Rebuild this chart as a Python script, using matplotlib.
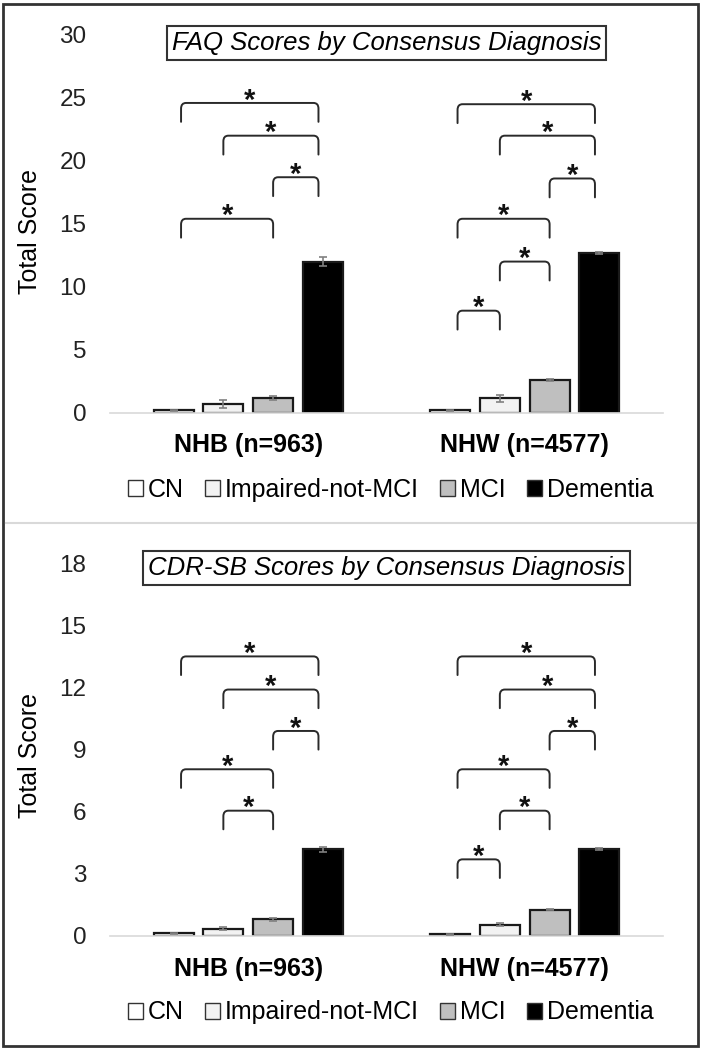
"""
FAQ and CDR-SB total scores by consensus diagnosis, NHB vs NHW.
Two stacked bar panels with significance brackets.
"""

import matplotlib.pyplot as plt
import numpy as np
from matplotlib.patches import Patch, Rectangle
from matplotlib.path import Path
from matplotlib.patches import PathPatch
from matplotlib.lines import Line2D

# ---------------------------------------------------------------------------
# Data
# ---------------------------------------------------------------------------
groups = ["NHB (n=963)", "NHW (n=4577)"]
diagnoses = ["CN", "Impaired-not-MCI", "MCI", "Dementia"]

faq_nhb     = [0.20, 0.67, 1.14, 12.00]
faq_nhb_err = [0.05, 0.30, 0.15, 0.35]
faq_nhw     = [0.20, 1.14, 2.60, 12.68]
faq_nhw_err = [0.05, 0.27, 0.10, 0.10]

cdr_nhb     = [0.13, 0.35, 0.80, 4.19]
cdr_nhb_err = [0.03, 0.06, 0.06, 0.12]
cdr_nhw     = [0.08, 0.55, 1.26, 4.19]
cdr_nhw_err = [0.02, 0.06, 0.03, 0.05]

# significance brackets: (from diagnosis, to diagnosis, bracket height)
faq_brackets_nhb = [(0, 3, 24.6), (1, 3, 22.0), (2, 3, 18.7), (0, 2, 15.4)]
faq_brackets_nhw = [(0, 3, 24.5), (1, 3, 22.0), (2, 3, 18.6), (0, 2, 15.4),
                    (1, 2, 12.0), (0, 1, 8.1)]
cdr_brackets_nhb = [(0, 3, 13.5), (1, 3, 11.9), (2, 3, 9.9), (0, 2, 8.05),
                    (1, 2, 6.05)]
cdr_brackets_nhw = [(0, 3, 13.5), (1, 3, 11.9), (2, 3, 9.9), (0, 2, 8.05),
                    (1, 2, 6.05), (0, 1, 3.7)]

faq_ticks = [0, 5, 10, 15, 20, 25, 30]
cdr_ticks = [0, 3, 6, 9, 12, 15, 18]

# ---------------------------------------------------------------------------
# Style
# ---------------------------------------------------------------------------
plt.rcParams.update({
    "font.family": ["Liberation Sans", "DejaVu Sans"],
    "font.size": 17.5,
})

face_colors = ["#ffffff", "#f2f2f2", "#bfbfbf", "#000000"]
edge_color = "#1a1a1a"
err_color = "#808080"
bar_w = 0.144
step = 0.18
offsets = [(i - 1.5) * step for i in range(len(diagnoses))]


def bracket(ax, x1, x2, y, drop):
    rx = 0.018
    ry = drop * 0.3
    verts = [(x1, y - drop), (x1, y - ry), (x1, y), (x1 + rx, y),
             (x2 - rx, y), (x2, y), (x2, y - ry), (x2, y - drop)]
    codes = [Path.MOVETO, Path.LINETO, Path.CURVE3, Path.CURVE3,
             Path.LINETO, Path.CURVE3, Path.CURVE3, Path.LINETO]
    ax.add_patch(PathPatch(Path(verts, codes), fill=False, lw=1.4,
                           edgecolor="#2a2a2a", capstyle="round",
                           zorder=3))
    ax.annotate("*", xy=((x1 + x2) / 2, y), xytext=(0, -4),
                textcoords="offset points", ha="center", va="baseline",
                fontsize=21, fontweight="bold", color="#111111")


def panel(ax, series, errs, brackets, ticks, title, title_y):
    ymax = ticks[-1]
    for g, (vals, ee) in enumerate(zip(series, errs)):
        for i in range(len(diagnoses)):
            ax.bar(g + offsets[i], vals[i], width=bar_w,
                   color=face_colors[i], edgecolor=edge_color, lw=1.6,
                   zorder=2)
            ax.errorbar(g + offsets[i], vals[i], yerr=ee[i], fmt="none",
                        ecolor=err_color, elinewidth=1.2, capsize=3,
                        capthick=1.2, zorder=3)
        for i, j, h in brackets[g]:
            # CN end sits slightly inside the bar, Dementia end slightly left
            x1 = g + offsets[i] + (0.027 if i == 0 else 0)
            x2 = g + offsets[j] - (0.016 if j == 3 else 0)
            bracket(ax, x1, x2, h, 0.05 * ymax)

    ax.set_xlim(-0.5, 1.5)
    ax.set_ylim(0, ymax)
    ax.set_yticks(ticks)
    ax.set_xticks([0, 1])
    ax.set_xticklabels(groups, fontsize=18, fontweight="bold")
    ax.tick_params(axis="y", length=0, pad=17, labelcolor="#222222")
    ax.tick_params(axis="x", length=0, pad=15)
    for s in ["top", "right", "left"]:
        ax.spines[s].set_visible(False)
    ax.spines["bottom"].set_color("#d9d9d9")
    ax.spines["bottom"].set_linewidth(1.2)

    ax.text(0.5, title_y, title, transform=ax.transAxes, ha="center",
            va="center", fontsize=18.5, style="italic",
            bbox=dict(boxstyle="square,pad=0.2", facecolor="white",
                      edgecolor="#333333", linewidth=1.5))

    handles = [Patch(facecolor=c, edgecolor="#333333", linewidth=1.0,
                     label=d) for c, d in zip(face_colors, diagnoses)]
    ax.legend(handles=handles, loc="center", bbox_to_anchor=(0.508, -0.205),
              ncol=4, frameon=False, fontsize=18, handlelength=0.6,
              handleheight=0.6, handletextpad=0.2, columnspacing=0.85,
              borderaxespad=0)


# ---------------------------------------------------------------------------
# Plot
# ---------------------------------------------------------------------------
fig = plt.figure(figsize=(7.02, 10.5), dpi=100)
ax1 = fig.add_axes([0.1567, 0.6070, 0.7877, 0.3597])
ax2 = fig.add_axes([0.1567, 0.1086, 0.7877, 0.3550])

panel(ax1, [faq_nhb, faq_nhw], [faq_nhb_err, faq_nhw_err],
      [faq_brackets_nhb, faq_brackets_nhw], faq_ticks,
      "FAQ Scores by Consensus Diagnosis", 0.979)
panel(ax2, [cdr_nhb, cdr_nhw], [cdr_nhb_err, cdr_nhw_err],
      [cdr_brackets_nhb, cdr_brackets_nhw], cdr_ticks,
      "CDR-SB Scores by Consensus Diagnosis", 0.987)

fig.text(30 / 702, 1 - 231 / 1050, "Total Score", rotation=90,
         ha="center", va="center", fontsize=18)
fig.text(30 / 702, 1 - 755 / 1050, "Total Score", rotation=90,
         ha="center", va="center", fontsize=18)

# divider between the panels and outer frame
fig.add_artist(Line2D([6 / 702, 696 / 702], [1 - 523 / 1050] * 2,
                      transform=fig.transFigure, color="#d9d9d9", lw=1.5))
fig.add_artist(Rectangle((3 / 702, 4 / 1050), 695 / 702, 1042 / 1050,
                         transform=fig.transFigure, fill=False,
                         edgecolor="#333333", lw=2))

fig.savefig("out.png", dpi=100)
